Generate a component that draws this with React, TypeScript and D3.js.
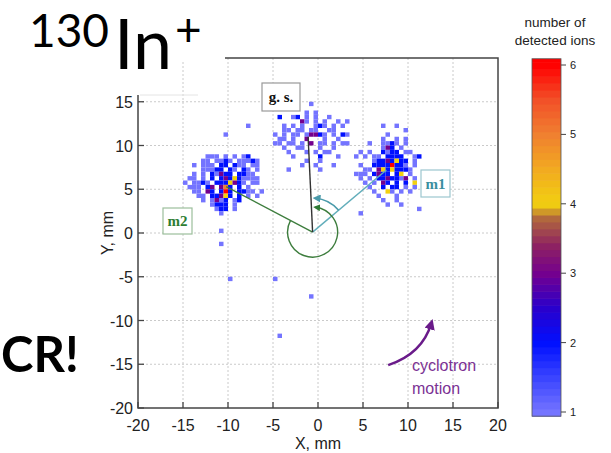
import React from "react";
import * as d3 from "d3";

// ---- data (counts per 0.5 mm bin; '.' = 0) ----
const BIN = 0.5;
const m2Left = -15.0;
const m2Top = 8.5;
const m2Rows = [
  ".....111.1.1.12...",
  "....11.1121.11121.",
  "..1.111.22.211.11.",
  "....11122.21.21.1.",
  "..1.1.21322.2211..",
  ".11.1.2.232421111.",
  "1.1121.2224321.11.",
  ".111.23.352.2.1...",
  "..11.32.262.2211.1",
  "...11.22342.2.1.1.",
  "....1.1312.12.....",
  "......1222.1......",
  ".......122.1......",
  "........1.........",
];
const m1Left = 4.0;
const m1Top = 12.0;
const m1Rows = [
  "......1..1.....",
  "...........1...",
  ".......1.......",
  "......1..1.1...",
  "...1..1121.1...",
  "......132.1....",
  ".1.1..2122.11..",
  "1.1.11.2222..12",
  "....12232422.1.",
  ".1..22226221.1.",
  "..11.34242221..",
  "111.2322.24.1..",
  ".1.1.2232213.1.",
  "..1.1.32.2.2.4.",
  "...1..2.22.1.1.",
  "....1..41.1.1..",
  ".....1...1.....",
  "......1..1.....",
  ".......1..1....",
];
const gsLeft = -5.0;
const gsTop = 14.5;
const gsRows = [
  "........1.........",
  "..................",
  ".......1.1........",
  ".2..12.1.1..1.....",
  "......31.1.1..1.1.",
  "..1.1.1..121.1.1..",
  "..11.11.11..11....",
  "1.1.11.13321.1.21.",
  ".11.1..3...1..1...",
  "11.11.1.3.11.1.11.",
  "..1..11...1..1....",
  "...1...1.1.11.....",
  "....1.....2...1...",
  ".......1..1.......",
  "......1..1...1....",
  "...1......1.......",
];
const outliersX = [-10.0, -5.0, -1.0, -4.5, -11.0, -11.0, -10.5, -8.0, 4.5, 11.0];
const outliersY = [-5.5, -5.5, -7.5, -12.0, 0.0, -1.5, 11.0, 12.0, 2.0, 2.5];
const outliersC = [1, 1, 1, 1, 1, 1, 1, 1, 1, 1];

const xTicks = [-20, -15, -10, -5, 0, 5, 10, 15, 20];
const yTicks = [-20, -15, -10, -5, 0, 5, 10, 15];
const gridVals = [-15, -10, -5, 0, 5, 10, 15];
const cbTicks = [1, 2, 3, 4, 5, 6];
const cbStops = [1, 1.5, 2, 2.5, 3, 3.4, 3.8, 4, 4.5, 5, 5.5, 6];
const cbColors = ["#7474ff", "#3a44ff", "#0010ff", "#2a00cc", "#74008e", "#8e2262", "#b26a3c", "#f2d010", "#f2aa20", "#f08030", "#f25028", "#ff0000"];

// annotation anchor points (data coords)
const center = [-0.6, 0.1];
const gsEnd = [-1.1, 11.0];
const m1End = [7.6, 7.2];
const m2End = [-10.2, 5.3];
const cycStart = [7.8, -15.1];
const cycCtrl = [11.6, -13.8];
const cycEnd = [12.6, -10.3];

type Cell = { x: number; y: number; c: number };
function cellsFrom(rows: string[], left: number, top: number): Cell[] {
  const out: Cell[] = [];
  rows.forEach((r, i) => {
    for (let j = 0; j < r.length; j++) {
      const ch = r[j];
      if (ch !== ".") out.push({ x: left + j * BIN, y: top - i * BIN, c: +ch });
    }
  });
  return out;
}

export default function App() {
  const x = d3.scaleLinear().domain([-20, 20]).range([138, 498]);
  const y = d3.scaleLinear().domain([-20, 20]).range([408, 58]);
  const color = d3.scaleLinear<string>().domain(cbStops).range(cbColors).interpolate(d3.interpolateRgb);
  const cb = d3.scaleLinear().domain([1, 6]).range([412, 65]);

  const cells: Cell[] = [
    ...cellsFrom(m2Rows, m2Left, m2Top),
    ...cellsFrom(m1Rows, m1Left, m1Top),
    ...cellsFrom(gsRows, gsLeft, gsTop),
    ...outliersX.map((v, i) => ({ x: v, y: outliersY[i], c: outliersC[i] })),
  ];

  const cx = x(center[0]);
  const cy = y(center[1]);
  const deg = Math.PI / 180;

  const greenArc = d3.path();
  greenArc.arc(cx, cy, 25, 208 * deg, -84 * deg, true);
  const tealArc = d3.path();
  tealArc.arc(cx, cy, 34, -40 * deg, -86 * deg, true);

  const cyc = d3.path();
  cyc.moveTo(x(cycStart[0]), y(cycStart[1]));
  cyc.quadraticCurveTo(x(cycCtrl[0]), y(cycCtrl[1]), x(cycEnd[0]), y(cycEnd[1]));

  const step = 0.1;
  const cbSteps = d3.range(0.94, 6.09, step);

  const sans = "'Liberation Sans', Arial, sans-serif";
  const serif = "'Liberation Serif', 'DejaVu Serif', serif";

  return (
    <svg width={611} height={453} style={{ position: "absolute", left: 0, top: 0, background: "#fff" }}>
      <defs>
        <marker id="ag" viewBox="0 0 10 10" refX="7" refY="5" markerWidth="5" markerHeight="5" orient="auto">
          <path d="M0,0 L10,5 L0,10 z" fill="#2f7a35" />
        </marker>
        <marker id="at" viewBox="0 0 10 10" refX="7" refY="5" markerWidth="5" markerHeight="5" orient="auto">
          <path d="M0,0 L10,5 L0,10 z" fill="#4a9aaa" />
        </marker>
        <marker id="ap" viewBox="0 0 10 10" refX="6" refY="5" markerWidth="4.2" markerHeight="4.2" orient="auto">
          <path d="M0,0 L10,5 L0,10 z" fill="#6a1b8a" />
        </marker>
      </defs>
      <rect x={0} y={0} width={611} height={453} fill="#fff" />

      {/* grid */}
      {gridVals.map((v) => (
        <line key={"gx" + v} x1={x(v)} x2={x(v)} y1={y(-20)} y2={y(20)} stroke="#bdbdbd" strokeDasharray="2,2" strokeWidth={0.8} />
      ))}
      {gridVals.map((v) => (
        <line key={"gy" + v} x1={x(-20)} x2={x(20)} y1={y(v)} y2={y(v)} stroke="#bdbdbd" strokeDasharray="2,2" strokeWidth={0.8} />
      ))}

      {/* heat cells */}
      {cells.map((d, i) => (
        <rect key={i} x={x(d.x)} y={y(d.y + BIN)} width={x(d.x + BIN) - x(d.x)} height={y(d.y) - y(d.y + BIN)} fill={color(d.c)} />
      ))}

      {/* frame & ticks */}
      <rect x={x(-20)} y={y(20)} width={x(20) - x(-20)} height={y(-20) - y(20)} fill="none" stroke="#444" strokeWidth={1.5} />
      {xTicks.map((v) => (
        <g key={"xt" + v}>
          <line x1={x(v)} x2={x(v)} y1={y(-20)} y2={y(-20) - 6} stroke="#444" strokeWidth={1.3} />
          <text x={x(v)} y={431} textAnchor="middle" fontFamily={sans} fontSize={16} fill="#222">{v}</text>
        </g>
      ))}
      {yTicks.map((v) => (
        <g key={"yt" + v}>
          <line x1={x(-20)} x2={x(-20) + 6} y1={y(v)} y2={y(v)} stroke="#444" strokeWidth={1.3} />
          <text x={133} y={y(v) + 6} textAnchor="end" fontFamily={sans} fontSize={16} fill="#222">{v}</text>
        </g>
      ))}
      <text x={318} y={449} textAnchor="middle" fontFamily={sans} fontSize={16} fill="#222">X, mm</text>
      <text transform={`translate(113,233) rotate(-90)`} textAnchor="middle" fontFamily={sans} fontSize={16} fill="#222">Y, mm</text>

      {/* vectors */}
      <line x1={cx} y1={cy} x2={x(m2End[0])} y2={y(m2End[1])} stroke="#3d7d3d" strokeWidth={1.4} />
      <line x1={cx} y1={cy} x2={x(m1End[0])} y2={y(m1End[1])} stroke="#62aebb" strokeWidth={1.4} />
      <line x1={cx} y1={cy} x2={x(gsEnd[0])} y2={y(gsEnd[1])} stroke="#333" strokeWidth={1.4} />
      <path d={greenArc.toString()} fill="none" stroke="#3d7d3d" strokeWidth={1.4} markerEnd="url(#ag)" />
      <path d={tealArc.toString()} fill="none" stroke="#4a9aaa" strokeWidth={1.6} markerEnd="url(#at)" />

      {/* labels */}
      <rect x={262} y={83} width={38} height={28} fill="#fff" stroke="#999" strokeWidth={1.2} />
      <text x={281} y={102} textAnchor="middle" fontFamily={serif} fontWeight="bold" fontSize={15} fill="#111">g. s.</text>
      <rect x={421} y={170} width={29} height={27} fill="#fff" stroke="#9cc6cf" strokeWidth={1.2} />
      <text x={435.5} y={189} textAnchor="middle" fontFamily={serif} fontWeight="bold" fontSize={15} fill="#3a8fa0">m1</text>
      <rect x={163} y={208} width={29} height={26} fill="#fff" stroke="#9cbf9c" strokeWidth={1.2} />
      <text x={177.5} y={226} textAnchor="middle" fontFamily={serif} fontWeight="bold" fontSize={15} fill="#2e7d32">m2</text>

      {/* cyclotron motion */}
      <path d={cyc.toString()} fill="none" stroke="#6a1b8a" strokeWidth={2.5} markerEnd="url(#ap)" />
      <text x={412} y={371} fontFamily={sans} fontSize={16} fill="#7b3294">cyclotron</text>
      <text x={412} y={394} fontFamily={sans} fontSize={16} fill="#7b3294">motion</text>

      {/* title overlay */}
      <rect x={0} y={0} width={225} height={62} fill="#fff" />
      <rect x={0} y={0} width={182} height={95} fill="#fff" />
      <line x1={140} x2={198} y1={95} y2={95} stroke="#e4e4e4" strokeWidth={1} />
      <text fontFamily="Lato, sans-serif" fill="#000">
        <tspan x={29} y={47} fontSize={46}>130</tspan>
        <tspan x={114} y={69} fontSize={70}>In</tspan>
        <tspan x={175} y={46} fontSize={46}>+</tspan>
      </text>
      <text x={1} y={372} fontFamily="Lato, sans-serif" fontWeight="bold" fontSize={49} fill="#000">CR!</text>

      {/* colorbar */}
      <text x={555} y={27} textAnchor="middle" fontFamily={sans} fontSize={13.5} fill="#222">number of</text>
      <text x={555} y={45} textAnchor="middle" fontFamily={sans} fontSize={13.5} fill="#222">detected ions</text>
      {cbSteps.map((v) => {
        const top = Math.min(v + step, 6.09);
        return (
          <rect key={"cb" + v} x={532} y={cb(top)} width={29} height={cb(v) - cb(top) + 0.6} fill={color(Math.max(1, Math.min(6, v + step / 2)))} />
        );
      })}
      <rect x={532} y={cb(6.09)} width={29} height={cb(0.94) - cb(6.09)} fill="none" stroke="#555" strokeWidth={0.8} />
      {cbTicks.map((v) => (
        <g key={"cbt" + v}>
          <line x1={561} x2={566} y1={cb(v)} y2={cb(v)} stroke="#444" strokeWidth={1} />
          <text x={570} y={cb(v) + 4} fontFamily={sans} fontSize={11} fill="#222">{v}</text>
        </g>
      ))}
    </svg>
  );
}
